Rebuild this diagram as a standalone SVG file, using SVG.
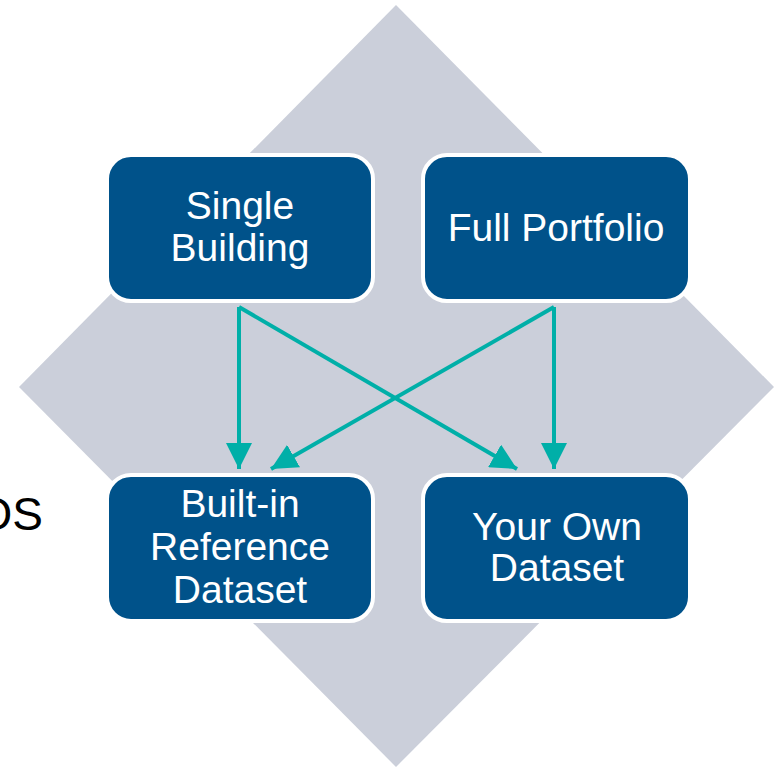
<svg xmlns="http://www.w3.org/2000/svg" width="779" height="767" viewBox="0 0 779 767">
<defs>
<style>
.node rect{fill:#00528A;stroke:#FFFFFF;stroke-width:4}
.node text{fill:#FFFFFF;font-family:"Liberation Sans",Arial,sans-serif;font-size:39px;text-anchor:middle}
.conn line{stroke:#00AFA8;stroke-width:4;fill:none}
.side{fill:#000000;font-family:"Liberation Sans",Arial,sans-serif;font-size:46px;text-anchor:end}
</style>
<marker id="ah" viewBox="0 0 10 10" refX="10" refY="5" markerWidth="6.5" markerHeight="6.5" markerUnits="strokeWidth" orient="auto">
<path d="M0,0 L10,5 L0,10 Z" fill="#00AFA8"/>
</marker>
</defs>
<rect width="779" height="767" fill="#FFFFFF"/>
<polygon id="diamond" points="396,5 774,387 396,767 19,387" fill="#CBCFDA"/>
<text class="side" x="43" y="530">OS</text>
<g id="single-building" class="node">
<rect x="107" y="155" width="266" height="146" rx="24"/>
<text x="240" y="219">Single</text>
<text x="240" y="261">Building</text>
</g>
<g id="full-portfolio" class="node">
<rect x="423" y="155" width="267" height="146" rx="24"/>
<text x="556" y="241">Full Portfolio</text>
</g>
<g id="built-in-reference-dataset" class="node">
<rect x="107" y="475" width="266" height="146" rx="24"/>
<text x="240" y="517">Built-in</text>
<text x="240" y="560">Reference</text>
<text x="240" y="603">Dataset</text>
</g>
<g id="your-own-dataset" class="node">
<rect x="423" y="475" width="267" height="146" rx="24"/>
<text x="557" y="540">Your Own</text>
<text x="557" y="581">Dataset</text>
</g>
<g id="connectors" class="conn">
<line x1="239" y1="307" x2="239" y2="469" marker-end="url(#ah)"/>
<line x1="239" y1="307" x2="517" y2="469" marker-end="url(#ah)"/>
<line x1="554" y1="307" x2="554" y2="469" marker-end="url(#ah)"/>
<line x1="554" y1="307" x2="271" y2="469" marker-end="url(#ah)"/>
</g>
</svg>
